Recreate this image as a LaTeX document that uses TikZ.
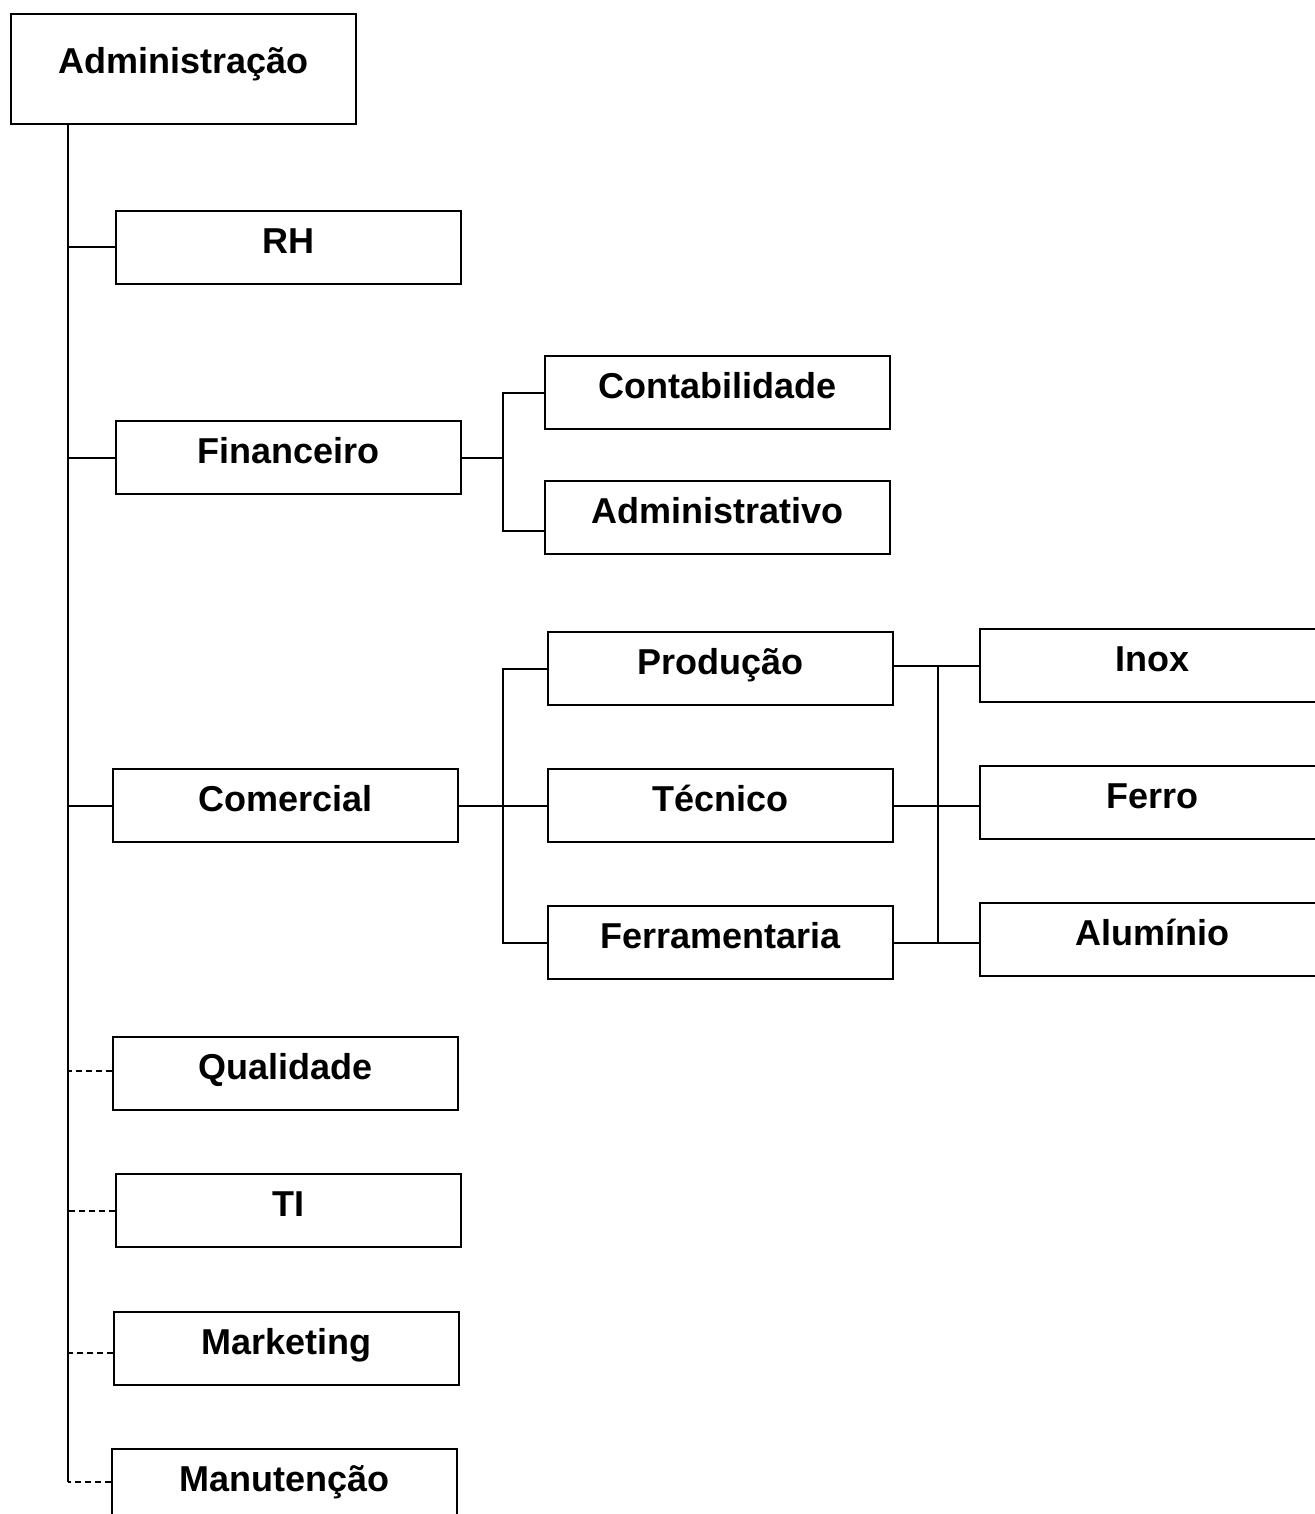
\documentclass[tikz,border=0pt]{standalone}
\usepackage{fontspec}
\setmainfont{Liberation Sans}
\usetikzlibrary{calc}
\tikzset{
  unit/.style={draw=black, line width=1pt, anchor=north west, minimum width=172.5pt, minimum height=36.5pt,
    inner sep=0pt, font=\fontsize{18}{21}\selectfont\bfseries, text height=0.72em, text depth=0.15em},
  topbox/.style={unit, minimum height=55pt, text depth=0.3em},
  link/.style={line width=1pt, draw=black},
  dlink/.style={link, dash pattern=on 3pt off 2pt}
}
\begin{document}
\begin{tikzpicture}[x=0.5pt, y=-0.5pt]
\useasboundingbox (0,0) rectangle (1315,1514);
\clip (0,0) rectangle (1315,1514);
% boxes
\node[topbox] (adm) at (10,13) {Administração};
\node[unit] (rh) at (115,210) {RH};
\node[unit] (fin) at (115,420) {Financeiro};
\node[unit] (cont) at (544,355) {Contabilidade};
\node[unit] (admv) at (544,480) {Administrativo};
\node[unit] (com) at (112,768) {Comercial};
\node[unit] (prod) at (547,631) {Produção};
\node[unit] (tec) at (547,768) {Técnico};
\node[unit] (ferr) at (547,905) {Ferramentaria};
\node[unit] (inox) at (979,628) {Inox};
\node[unit] (ferro) at (979,765) {Ferro};
\node[unit] (alu) at (979,902) {Alumínio};
\node[unit] (qual) at (112,1036) {Qualidade};
\node[unit] (ti) at (115,1173) {TI};
\node[unit] (mkt) at (113,1311) {Marketing};
\node[unit] (man) at (111,1448) {Manutenção};
% trunk
\coordinate (ttop) at (68,123);
\coordinate (tbot) at (68,1482);
\draw[link] (ttop) -- (tbot);
\draw[link] (rh.west) -- (rh.west -| ttop);
\draw[link] (fin.west) -- (fin.west -| ttop);
\draw[link] (com.west) -- (com.west -| ttop);
\draw[dlink] ($(qual.west)+(0,-3)$) -- ($(qual.west -| ttop)+(0,-3)$);
\draw[dlink] (ti.west) -- (ti.west -| ttop);
\draw[dlink] ($(mkt.west)+(0,4)$) -- ($(mkt.west -| ttop)+(0,4)$);
\draw[dlink] (tbot -| man.west) -- (tbot);
% financeiro subtree
\coordinate (fj) at (503,456);
\draw[link] (fin.east) -- (fin.east -| fj);
\draw[link] (cont.west) -- (cont.west -| fj) -- ($(admv.west -| fj)+(0,13)$) -- ($(admv.west)+(0,13)$);
% comercial subtree
\coordinate (cj) at (503,804);
\draw[link] (com.east) -- (tec.west);
\draw[link] (prod.west) -- (prod.west -| cj) -- (ferr.west -| cj) -- (ferr.west);
% right subtree
\coordinate (rj) at (938,700);
\draw[link] (inox.west) -- (inox.west -| prod.east);
\draw[link] (tec.east) -- (tec.east -| ferro.west);
\draw[link] (ferr.east) -- (ferr.east -| alu.west);
\draw[link] (inox.west -| rj) -- (ferr.east -| rj);
\end{tikzpicture}
\end{document}
